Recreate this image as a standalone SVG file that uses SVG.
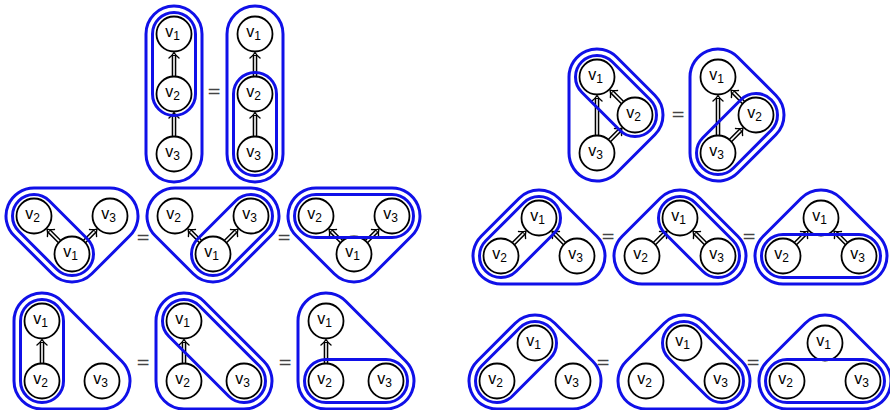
<svg xmlns="http://www.w3.org/2000/svg" width="890" height="410" viewBox="0 0 890 410">
<style>
.hull{fill:none;stroke:#1010e8;stroke-width:3}
.node circle{fill:#fff;stroke:#000;stroke-width:1.8}
.node text{font-family:"Liberation Sans",Arial,sans-serif;font-size:16px;text-anchor:middle;fill:#000}
.sub{font-size:12px}
.eq{font-family:"DejaVu Sans",sans-serif;font-size:17px;text-anchor:middle;fill:#444}
.dl{stroke:#000;stroke-width:4.6;fill:none}
.dli{stroke:#fff;stroke-width:1.6;fill:none}
.hd{stroke:#000;stroke-width:1.4;fill:none;stroke-linecap:round;stroke-linejoin:round}
</style>
<defs>
<g id="a24"><path class="dl" d="M0 24V2.5"/><path class="dli" d="M0 24V3.5"/><path class="hd" d="M-5 5.5Q-1.8 3 0 0Q1.8 3 5 5.5"/></g>
<g id="a40"><path class="dl" d="M0 40V2.5"/><path class="dli" d="M0 40V3.5"/><path class="hd" d="M-5 5.5Q-1.8 3 0 0Q1.8 3 5 5.5"/></g>
<g id="a18"><path class="dl" d="M0 17.7V2.5"/><path class="dli" d="M0 17.7V3.5"/><path class="hd" d="M-5 5.5Q-1.8 3 0 0Q1.8 3 5 5.5"/></g>
<path id="o-down" d="M-38 -28L38 -28A28 28 0 0 1 57.8 19.8L19.8 57.8A28 28 0 0 1 -19.8 57.8L-57.8 19.8A28 28 0 0 1 -38 -28Z"/>
<path id="o-up" d="M-38 28L38 28A28 28 0 0 0 57.8 -19.8L19.8 -57.8A28 28 0 0 0 -19.8 -57.8L-57.8 -19.8A28 28 0 0 0 -38 28Z"/>
<path id="o-right" d="M19.8 -57.8L57.8 -19.8A28 28 0 0 1 57.8 19.8L19.8 57.8A28 28 0 0 1 -28 38L-28 -38A28 28 0 0 1 19.8 -57.8Z"/>
<path id="o-corner" d="M19.8 -79.8L79.8 -19.8A28 28 0 0 1 60 28L0 28A28 28 0 0 1 -28 0L-28 -60A28 28 0 0 1 19.8 -79.8Z"/>
<rect id="cap-d" x="-48.37" y="-21.5" width="96.74" height="43" rx="21.5"/>
<rect id="cap-d85" x="-63.93" y="-21.5" width="127.85" height="43" rx="21.5"/>
<rect id="cap-h76" x="-59.5" y="-21.5" width="119" height="43" rx="21.5"/>
<rect id="cap-v60" x="-21.5" y="-51.5" width="43" height="103" rx="21.5"/>
</defs>

<g id="connectors">
<use href="#a24" transform="translate(174,52.5)"/>
<use href="#a24" transform="translate(174,112.5)"/>
<use href="#a24" transform="translate(255,52.5)"/>
<use href="#a24" transform="translate(255,112.5)"/>
<use href="#a40" transform="translate(597,95.5)"/>
<use href="#a18" transform="translate(610.08,90.08) rotate(-45)"/>
<use href="#a18" transform="translate(621.92,128.08) rotate(45)"/>
<use href="#a40" transform="translate(718,95.5)"/>
<use href="#a18" transform="translate(731.08,90.08) rotate(-45)"/>
<use href="#a18" transform="translate(742.92,128.08) rotate(45)"/>
<use href="#a18" transform="translate(47.08,229.08) rotate(-45)"/>
<use href="#a18" transform="translate(96.92,229.08) rotate(45)"/>
<use href="#a18" transform="translate(188.08,229.08) rotate(-45)"/>
<use href="#a18" transform="translate(237.92,229.08) rotate(45)"/>
<use href="#a18" transform="translate(329.08,229.08) rotate(-45)"/>
<use href="#a18" transform="translate(378.92,229.08) rotate(45)"/>
<use href="#a18" transform="translate(525.92,231.08) rotate(45)"/>
<use href="#a18" transform="translate(552.08,231.08) rotate(-45)"/>
<use href="#a18" transform="translate(666.92,231.08) rotate(45)"/>
<use href="#a18" transform="translate(693.08,231.08) rotate(-45)"/>
<use href="#a18" transform="translate(807.92,231.08) rotate(45)"/>
<use href="#a18" transform="translate(834.08,231.08) rotate(-45)"/>
<use href="#a24" transform="translate(42,339.5)"/>
<use href="#a24" transform="translate(184,339.5)"/>
<use href="#a24" transform="translate(326,339.5)"/>
</g>

<g id="fig-P1" transform="translate(174,0)">
<g id="P1-v1" class="node"><circle cx="0" cy="34" r="17.5"/><text x="-1.5" y="36.5">v<tspan class="sub" dy="3.8">1</tspan></text></g>
<g id="P1-v2" class="node"><circle cx="0" cy="94" r="17.5"/><text x="-1.5" y="96.5">v<tspan class="sub" dy="3.8">2</tspan></text></g>
<g id="P1-v3" class="node"><circle cx="0" cy="154" r="17.5"/><text x="-1.5" y="156.5">v<tspan class="sub" dy="3.8">3</tspan></text></g>
</g>
<g id="fig-P2" transform="translate(255,0)">
<g id="P2-v1" class="node"><circle cx="0" cy="34" r="17.5"/><text x="-1.5" y="36.5">v<tspan class="sub" dy="3.8">1</tspan></text></g>
<g id="P2-v2" class="node"><circle cx="0" cy="94" r="17.5"/><text x="-1.5" y="96.5">v<tspan class="sub" dy="3.8">2</tspan></text></g>
<g id="P2-v3" class="node"><circle cx="0" cy="154" r="17.5"/><text x="-1.5" y="156.5">v<tspan class="sub" dy="3.8">3</tspan></text></g>
</g>

<g id="fig-Q1" transform="translate(597,115)">
<g id="Q1-v1" class="node"><circle cx="0" cy="-38" r="17.5"/><text x="-1.5" y="-35.5">v<tspan class="sub" dy="3.8">1</tspan></text></g>
<g id="Q1-v2" class="node"><circle cx="38" cy="0" r="17.5"/><text x="36.5" y="2.5">v<tspan class="sub" dy="3.8">2</tspan></text></g>
<g id="Q1-v3" class="node"><circle cx="0" cy="38" r="17.5"/><text x="-1.5" y="40.5">v<tspan class="sub" dy="3.8">3</tspan></text></g>
</g>
<g id="fig-Q2" transform="translate(718,115)">
<g id="Q2-v1" class="node"><circle cx="0" cy="-38" r="17.5"/><text x="-1.5" y="-35.5">v<tspan class="sub" dy="3.8">1</tspan></text></g>
<g id="Q2-v2" class="node"><circle cx="38" cy="0" r="17.5"/><text x="36.5" y="2.5">v<tspan class="sub" dy="3.8">2</tspan></text></g>
<g id="Q2-v3" class="node"><circle cx="0" cy="38" r="17.5"/><text x="-1.5" y="40.5">v<tspan class="sub" dy="3.8">3</tspan></text></g>
</g>

<g id="fig-A" transform="translate(72,216)">
<g id="A-v1" class="node"><circle cx="0" cy="38" r="17.5"/><text x="-1.5" y="40.5">v<tspan class="sub" dy="3.8">1</tspan></text></g>
<g id="A-v2" class="node"><circle cx="-38" cy="0" r="17.5"/><text x="-39.5" y="2.5">v<tspan class="sub" dy="3.8">2</tspan></text></g>
<g id="A-v3" class="node"><circle cx="38" cy="0" r="17.5"/><text x="36.5" y="2.5">v<tspan class="sub" dy="3.8">3</tspan></text></g>
</g>
<g id="fig-B" transform="translate(213,216)">
<g id="B-v1" class="node"><circle cx="0" cy="38" r="17.5"/><text x="-1.5" y="40.5">v<tspan class="sub" dy="3.8">1</tspan></text></g>
<g id="B-v2" class="node"><circle cx="-38" cy="0" r="17.5"/><text x="-39.5" y="2.5">v<tspan class="sub" dy="3.8">2</tspan></text></g>
<g id="B-v3" class="node"><circle cx="38" cy="0" r="17.5"/><text x="36.5" y="2.5">v<tspan class="sub" dy="3.8">3</tspan></text></g>
</g>
<g id="fig-C" transform="translate(354,216)">
<g id="C-v1" class="node"><circle cx="0" cy="38" r="17.5"/><text x="-1.5" y="40.5">v<tspan class="sub" dy="3.8">1</tspan></text></g>
<g id="C-v2" class="node"><circle cx="-38" cy="0" r="17.5"/><text x="-39.5" y="2.5">v<tspan class="sub" dy="3.8">2</tspan></text></g>
<g id="C-v3" class="node"><circle cx="38" cy="0" r="17.5"/><text x="36.5" y="2.5">v<tspan class="sub" dy="3.8">3</tspan></text></g>
</g>

<g id="fig-D" transform="translate(539,256)">
<g id="D-v1" class="node"><circle cx="0" cy="-38" r="17.5"/><text x="-1.5" y="-35.5">v<tspan class="sub" dy="3.8">1</tspan></text></g>
<g id="D-v2" class="node"><circle cx="-38" cy="0" r="17.5"/><text x="-39.5" y="2.5">v<tspan class="sub" dy="3.8">2</tspan></text></g>
<g id="D-v3" class="node"><circle cx="38" cy="0" r="17.5"/><text x="36.5" y="2.5">v<tspan class="sub" dy="3.8">3</tspan></text></g>
</g>
<g id="fig-E" transform="translate(680,256)">
<g id="E-v1" class="node"><circle cx="0" cy="-38" r="17.5"/><text x="-1.5" y="-35.5">v<tspan class="sub" dy="3.8">1</tspan></text></g>
<g id="E-v2" class="node"><circle cx="-38" cy="0" r="17.5"/><text x="-39.5" y="2.5">v<tspan class="sub" dy="3.8">2</tspan></text></g>
<g id="E-v3" class="node"><circle cx="38" cy="0" r="17.5"/><text x="36.5" y="2.5">v<tspan class="sub" dy="3.8">3</tspan></text></g>
</g>
<g id="fig-F" transform="translate(821,256)">
<g id="F-v1" class="node"><circle cx="0" cy="-38" r="17.5"/><text x="-1.5" y="-35.5">v<tspan class="sub" dy="3.8">1</tspan></text></g>
<g id="F-v2" class="node"><circle cx="-38" cy="0" r="17.5"/><text x="-39.5" y="2.5">v<tspan class="sub" dy="3.8">2</tspan></text></g>
<g id="F-v3" class="node"><circle cx="38" cy="0" r="17.5"/><text x="36.5" y="2.5">v<tspan class="sub" dy="3.8">3</tspan></text></g>
</g>

<g id="fig-G" transform="translate(42,381)">
<g id="G-v1" class="node"><circle cx="0" cy="-60" r="17.5"/><text x="-1.5" y="-57.5">v<tspan class="sub" dy="3.8">1</tspan></text></g>
<g id="G-v2" class="node"><circle cx="0" cy="0" r="17.5"/><text x="-1.5" y="2.5">v<tspan class="sub" dy="3.8">2</tspan></text></g>
<g id="G-v3" class="node"><circle cx="60" cy="0" r="17.5"/><text x="58.5" y="2.5">v<tspan class="sub" dy="3.8">3</tspan></text></g>
</g>
<g id="fig-H" transform="translate(184,381)">
<g id="H-v1" class="node"><circle cx="0" cy="-60" r="17.5"/><text x="-1.5" y="-57.5">v<tspan class="sub" dy="3.8">1</tspan></text></g>
<g id="H-v2" class="node"><circle cx="0" cy="0" r="17.5"/><text x="-1.5" y="2.5">v<tspan class="sub" dy="3.8">2</tspan></text></g>
<g id="H-v3" class="node"><circle cx="60" cy="0" r="17.5"/><text x="58.5" y="2.5">v<tspan class="sub" dy="3.8">3</tspan></text></g>
</g>
<g id="fig-I" transform="translate(326,381)">
<g id="I-v1" class="node"><circle cx="0" cy="-60" r="17.5"/><text x="-1.5" y="-57.5">v<tspan class="sub" dy="3.8">1</tspan></text></g>
<g id="I-v2" class="node"><circle cx="0" cy="0" r="17.5"/><text x="-1.5" y="2.5">v<tspan class="sub" dy="3.8">2</tspan></text></g>
<g id="I-v3" class="node"><circle cx="60" cy="0" r="17.5"/><text x="58.5" y="2.5">v<tspan class="sub" dy="3.8">3</tspan></text></g>
</g>

<g id="fig-J" transform="translate(535,381)">
<g id="J-v1" class="node"><circle cx="0" cy="-38" r="17.5"/><text x="-1.5" y="-35.5">v<tspan class="sub" dy="3.8">1</tspan></text></g>
<g id="J-v2" class="node"><circle cx="-38" cy="0" r="17.5"/><text x="-39.5" y="2.5">v<tspan class="sub" dy="3.8">2</tspan></text></g>
<g id="J-v3" class="node"><circle cx="38" cy="0" r="17.5"/><text x="36.5" y="2.5">v<tspan class="sub" dy="3.8">3</tspan></text></g>
</g>
<g id="fig-K" transform="translate(684,381)">
<g id="K-v1" class="node"><circle cx="0" cy="-38" r="17.5"/><text x="-1.5" y="-35.5">v<tspan class="sub" dy="3.8">1</tspan></text></g>
<g id="K-v2" class="node"><circle cx="-38" cy="0" r="17.5"/><text x="-39.5" y="2.5">v<tspan class="sub" dy="3.8">2</tspan></text></g>
<g id="K-v3" class="node"><circle cx="38" cy="0" r="17.5"/><text x="36.5" y="2.5">v<tspan class="sub" dy="3.8">3</tspan></text></g>
</g>
<g id="fig-L" transform="translate(825,381)">
<g id="L-v1" class="node"><circle cx="0" cy="-38" r="17.5"/><text x="-1.5" y="-35.5">v<tspan class="sub" dy="3.8">1</tspan></text></g>
<g id="L-v2" class="node"><circle cx="-38" cy="0" r="17.5"/><text x="-39.5" y="2.5">v<tspan class="sub" dy="3.8">2</tspan></text></g>
<g id="L-v3" class="node"><circle cx="38" cy="0" r="17.5"/><text x="36.5" y="2.5">v<tspan class="sub" dy="3.8">3</tspan></text></g>
</g>

<g id="hulls" class="hull">
<rect x="146" y="6" width="56" height="176" rx="28"/>
<use href="#cap-v60" transform="translate(174,64)"/>
<rect x="227" y="6" width="56" height="176" rx="28"/>
<use href="#cap-v60" transform="translate(255,124)"/>
<use href="#o-right" transform="translate(597,115)"/>
<use href="#cap-d" transform="translate(616,96) rotate(45)"/>
<use href="#o-right" transform="translate(718,115)"/>
<use href="#cap-d" transform="translate(737,134) rotate(-45)"/>
<use href="#o-down" transform="translate(72,216)"/>
<use href="#cap-d" transform="translate(53,235) rotate(45)"/>
<use href="#o-down" transform="translate(213,216)"/>
<use href="#cap-d" transform="translate(232,235) rotate(-45)"/>
<use href="#o-down" transform="translate(354,216)"/>
<use href="#cap-h76" transform="translate(354,216)"/>
<use href="#o-up" transform="translate(539,256)"/>
<use href="#cap-d" transform="translate(520,237) rotate(-45)"/>
<use href="#o-up" transform="translate(680,256)"/>
<use href="#cap-d" transform="translate(699,237) rotate(45)"/>
<use href="#o-up" transform="translate(821,256)"/>
<use href="#cap-h76" transform="translate(821,256)"/>
<use href="#o-corner" transform="translate(42,381)"/>
<use href="#cap-v60" transform="translate(42,351)"/>
<use href="#o-corner" transform="translate(184,381)"/>
<use href="#cap-d85" transform="translate(214,351) rotate(45)"/>
<use href="#o-corner" transform="translate(326,381)"/>
<use href="#cap-v60" transform="translate(356,381) rotate(90)"/>
<use href="#o-up" transform="translate(535,381)"/>
<use href="#cap-d" transform="translate(516,362) rotate(-45)"/>
<use href="#o-up" transform="translate(684,381)"/>
<use href="#cap-d" transform="translate(703,362) rotate(45)"/>
<use href="#o-up" transform="translate(825,381)"/>
<use href="#cap-h76" transform="translate(825,381)"/>
</g>

<g id="equals" class="eq">
<text x="214" y="97">=</text>
<text x="678" y="120">=</text>
<text x="143" y="243">=</text>
<text x="284" y="243">=</text>
<text x="608" y="242">=</text>
<text x="749" y="242">=</text>
<text x="143" y="368">=</text>
<text x="285" y="368">=</text>
<text x="603" y="368">=</text>
<text x="753" y="368">=</text>
</g>
</svg>
